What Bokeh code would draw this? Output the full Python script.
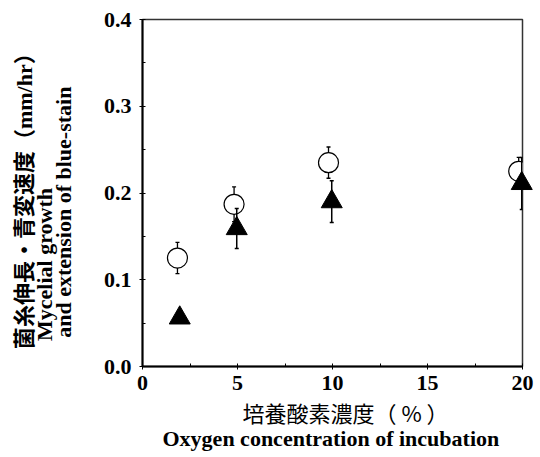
from bokeh.plotting import figure
from bokeh.models import Range1d, Title, ColumnDataSource, Whisker, TeeHead, FixedTicker, PrintfTickFormatter
from bokeh.embed import file_html
from bokeh.resources import INLINE

# Data
oxygen_growth = [1.84, 4.82, 9.79, 19.8]
growth = [0.125, 0.187, 0.235, 0.225]
growth_err = [0.018, 0.020, 0.018, 0.016]

oxygen_stain = [1.96, 4.96, 9.96, 19.96]
stain = [0.056, 0.159, 0.190, 0.211]
stain_err = [0.0, 0.023, 0.024, 0.030]

x_ticks = [0, 5, 10, 15, 20]
y_ticks = [0.0, 0.1, 0.2, 0.3, 0.4]

ylab1 = "菌糸伸長・青変速度（mm/hr）"
ylab2 = "Mycelial growth"
ylab3 = "and extension of blue-stain"
xlab1 = "培養酸素濃度（ % ）"
xlab2 = "Oxygen concentration of incubation"

SERIF = "Liberation Serif"
CJK = "Noto Sans CJK JP"
MIX = "'Liberation Serif', 'Noto Sans CJK JP'"

p = figure(width=540, height=457, output_backend="svg", toolbar_location=None,
           x_range=Range1d(0, 20), y_range=Range1d(0, 0.4),
           min_border_left=142, min_border_right=18, min_border_top=19, min_border_bottom=91)
p.background_fill_color = "white"
p.border_fill_color = "white"
p.grid.visible = False
p.outline_line_color = "#333333"
p.outline_line_width = 1.5

for ax in (p.xaxis[0], p.yaxis[0]):
    ax.axis_line_width = 2
    ax.axis_line_color = "black"
    ax.major_tick_in = 3
    ax.major_tick_out = 3
    ax.minor_tick_in = 3
    ax.minor_tick_out = 0
    ax.major_tick_line_color = "black"
    ax.minor_tick_line_color = "black"
    ax.major_label_text_font = SERIF
    ax.major_label_text_font_style = "bold"
    ax.major_label_text_font_size = "22px"
    ax.major_label_text_color = "black"

p.xaxis.ticker = FixedTicker(ticks=x_ticks, minor_ticks=[2.5, 7.5, 12.5, 17.5])
p.yaxis.ticker = FixedTicker(ticks=y_ticks, minor_ticks=[0.05, 0.15, 0.25, 0.35])
p.yaxis.formatter = PrintfTickFormatter(format="%.1f")
p.xaxis.major_label_standoff = 6
p.yaxis.major_label_standoff = 8

# y axis title: three lines, padded so that they start at the same place
lead = " "
p.yaxis.axis_label = "\n".join([lead + ylab1,
                                lead + ylab2 + " " * 25,
                                lead + ylab3 + " " * 6])
p.yaxis.axis_label_text_font = MIX
p.yaxis.axis_label_text_font_style = "bold"
p.yaxis.axis_label_text_font_size = "22px"
p.yaxis.axis_label_text_color = "black"
p.yaxis.axis_label_text_line_height = 0.78
p.yaxis.axis_label_standoff = 25

# mycelial growth (open circles)
src_g = ColumnDataSource(dict(x=oxygen_growth, y=growth,
                              lo=[v - e for v, e in zip(growth, growth_err)],
                              hi=[v + e for v, e in zip(growth, growth_err)]))
p.add_layout(Whisker(source=src_g, base="x", lower="lo", upper="hi", line_width=1.3,
                     upper_head=TeeHead(size=4, line_width=1.3),
                     lower_head=TeeHead(size=4, line_width=1.3)))
p.scatter("x", "y", source=src_g, marker="circle", size=20, fill_color="white",
          line_color="black", line_width=1.2)

# blue-stain extension (filled triangles)
src_s = ColumnDataSource(dict(x=oxygen_stain, y=stain,
                              lo=[v - e for v, e in zip(stain, stain_err)],
                              hi=[v + e for v, e in zip(stain, stain_err)]))
p.add_layout(Whisker(source=src_s, base="x", lower="lo", upper="hi", line_width=1.5,
                     upper_head=TeeHead(size=4, line_width=1.5),
                     lower_head=TeeHead(size=4, line_width=1.5), level="overlay"))
p.scatter("x", "y", source=src_s, marker="triangle", size=21, fill_color="black",
          line_color="black", level="overlay")

# x axis titles as stacked Title annotations
p.add_layout(Title(text=xlab1, align="left", offset=100, text_font=CJK,
                   text_font_style="normal", text_font_size="22px", standoff=3,
                   text_color="black"), "below")
p.add_layout(Title(text=xlab2, align="left", offset=20, text_font=SERIF,
                   text_font_style="bold", text_font_size="22px", standoff=-12,
                   text_color="black"), "below")

open("out.html", "w").write(file_html(p, INLINE))
